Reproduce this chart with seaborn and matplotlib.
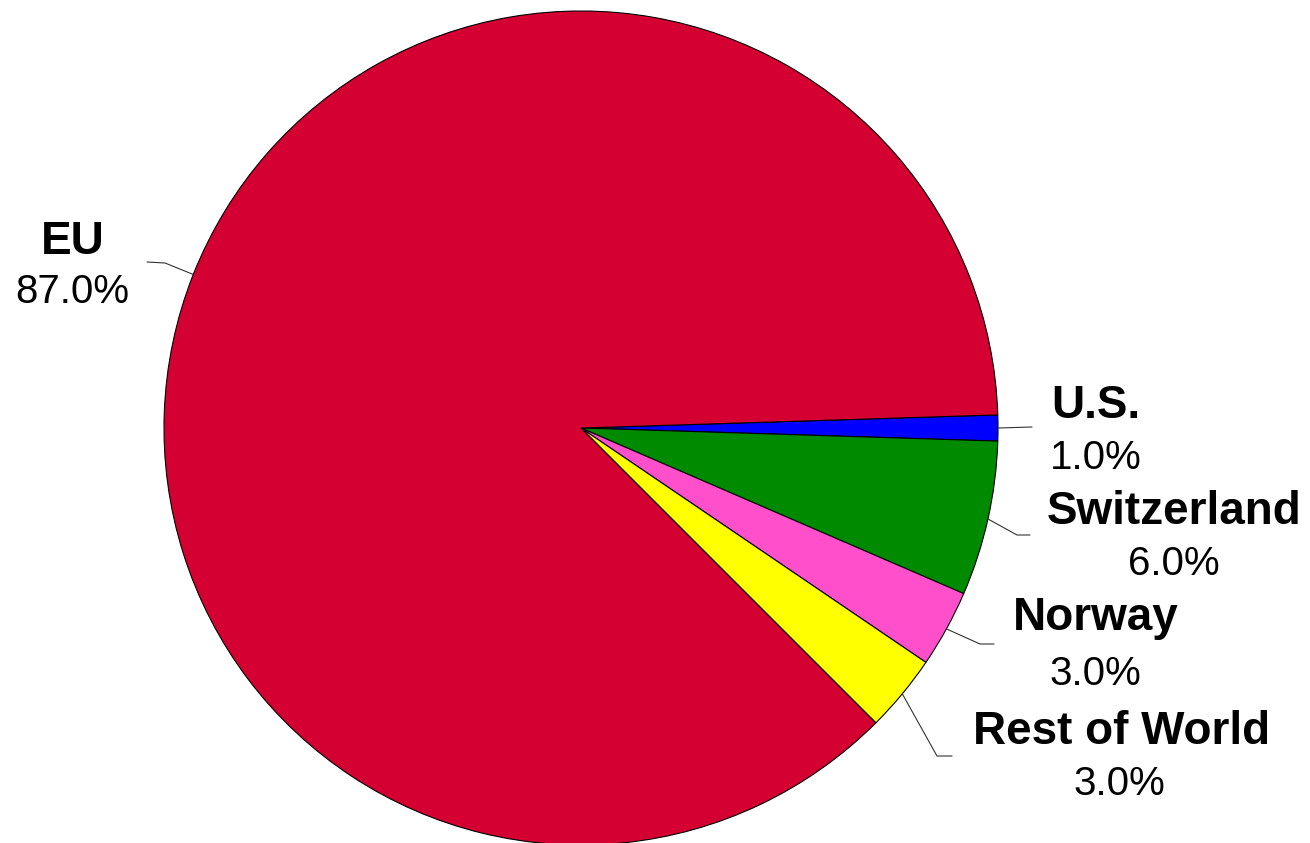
import numpy as np
import matplotlib
matplotlib.use("Agg")
import matplotlib.pyplot as plt
import seaborn as sns

# ---- data ----
categories = ["U.S.", "Switzerland", "Norway", "Rest of World", "EU"]
shares = [1.0, 6.0, 3.0, 3.0, 87.0]
colors = ["#0000FF", "#008A00", "#FF4FCB", "#FFFF00", "#D50032"]

sns.set_theme(style="white")
plt.rcParams["font.family"] = ["Liberation Sans", "DejaVu Sans"]

W, H = 1310, 843
fig = plt.figure(figsize=(W / 100, H / 100), dpi=100)
ax = fig.add_axes([0, 0, 1, 1])

# layout: pie centre (px) and radius (px)
cx, cy, R = 581, 428, 417
def px(x, y):
    return ((x - cx) / R, (cy - y) / R)

ax.set_xlim((0 - cx) / R, (W - cx) / R)
ax.set_ylim((cy - H) / R, (cy - 0) / R)
ax.axis("off")

wedges, _ = ax.pie(shares, colors=colors, startangle=1.8, counterclock=False,
                   radius=1.0, center=(0, 0), frame=True,
                   wedgeprops=dict(edgecolor="black", linewidth=0.8))
ax.set_xlim((0 - cx) / R, (W - cx) / R)
ax.set_ylim((cy - H) / R, (cy - 0) / R)
ax.set_aspect("auto")
ax.axis("off")

# label layout (pixel positions): name centre, pct centre, elbow, line end
layout = {
    "U.S.":          dict(name=(1096, 401), pct=(1096, 454), elbow=None, end=(1032, 427)),
    "Switzerland":   dict(name=(1174, 507), pct=(1174, 560), elbow=(1017, 535), end=(1030, 535)),
    "Norway":        dict(name=(1096, 613), pct=(1095, 670), elbow=(980, 644), end=(994, 644)),
    "Rest of World": dict(name=(1122, 727), pct=(1119, 780), elbow=(937, 756), end=(952, 756)),
    "EU":            dict(name=(73, 237), pct=(72, 288), elbow=(165, 263), end=(147, 262)),
}

for w, cat, val in zip(wedges, categories, shares):
    ang = np.deg2rad((w.theta1 + w.theta2) / 2)
    sx, sy = np.cos(ang), np.sin(ang)
    L = layout[cat]
    pts = [(sx, sy)]
    if L["elbow"] is not None:
        pts.append(px(*L["elbow"]))
    pts.append(px(*L["end"]))
    xs, ys = zip(*pts)
    ax.plot(xs, ys, color="#333333", linewidth=0.8)
    nx, ny = px(*L["name"])
    ax.text(nx, ny, cat, ha="center", va="center_baseline", fontsize=33,
            fontweight="bold", color="black")
    qx, qy = px(*L["pct"])
    ax.text(qx, qy, f"{val:.1f}%", ha="center", va="center_baseline", fontsize=29,
            color="black")

fig.savefig("out.png", dpi=100, facecolor="white")
